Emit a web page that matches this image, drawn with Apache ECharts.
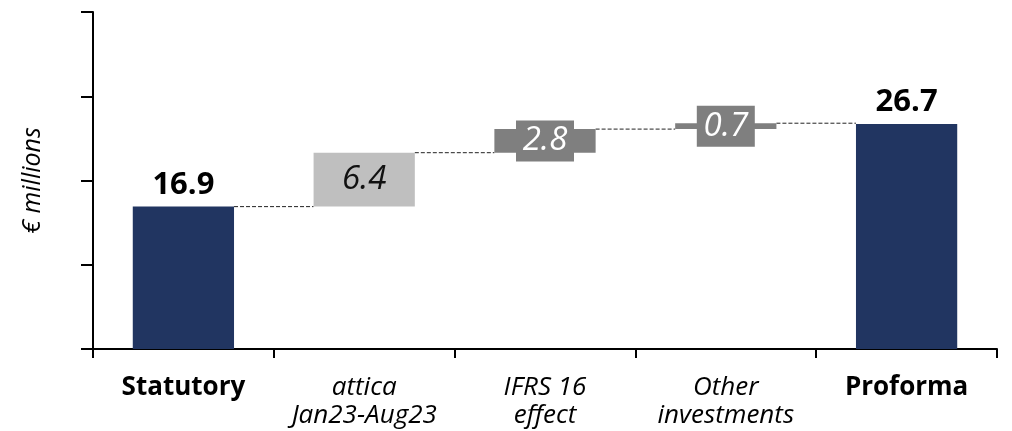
<!DOCTYPE html>
<html>
<head>
<meta charset="utf-8">
<style>
  html, body { margin: 0; padding: 0; background: #ffffff; }
  #chart { width: 1012px; height: 431px; }
</style>
<script src="https://cdn.jsdelivr.net/npm/echarts@6/dist/echarts.min.js"></script>
</head>
<body>
<div id="chart"></div>
<script>
// Bridge from statutory to proforma figure (€ millions)
const categories = ['Statutory', 'attica\nJan23-Aug23', 'IFRS 16\neffect', 'Other\ninvestments', 'Proforma'];
const values = [16.9, 6.4, 2.8, 0.7, 26.7];
const kinds = ['total', 'step', 'step', 'step', 'total'];
const yTicks = { min: 0, max: 40, interval: 10 };

const NAVY = '#213561';
const LIGHT = '#bfbfbf';
const DARK = '#7f7f7f';
const FONT = 'Open Sans';

// floating base for each bar: totals start at zero, steps start at the running total
const bases = [];
const tops = [];
let running = 0;
values.forEach((v, i) => {
  if (kinds[i] === 'total') {
    bases.push(0);
    running = v;
  } else {
    bases.push(running);
    running += v;
  }
  tops.push(bases[i] + v);
});

const BAR_RATIO = 0.56;

function itemFor(v, i) {
  if (kinds[i] === 'total') {
    return {
      value: v,
      itemStyle: { color: NAVY },
      label: {
        show: true, position: 'top', distance: 6,
        fontFamily: FONT, fontWeight: 'bold', fontSize: 31, color: '#000'
      }
    };
  }
  if (i === 1) {
    return {
      value: v,
      itemStyle: { color: LIGHT },
      label: {
        show: true, position: 'inside',
        fontFamily: FONT, fontStyle: 'italic', fontSize: 33, color: '#111'
      }
    };
  }
  return {
    value: v,
    itemStyle: { color: DARK },
    label: {
      show: true, position: 'inside',
      fontFamily: FONT, fontStyle: 'italic', fontSize: 33, color: '#fff',
      backgroundColor: DARK, width: 58, height: 41, lineHeight: 41, align: 'center'
    }
  };
}

// dashed connectors from each bar's top to the next bar
const connectors = [];
for (let i = 0; i < values.length - 1; i++) {
  connectors.push([i, tops[i]]);
}

const chart = echarts.init(document.getElementById('chart'), null, { renderer: 'canvas' });
chart.setOption({
  animation: false,
  backgroundColor: '#ffffff',
  grid: { left: 93, right: 15, top: 12, bottom: 82, containLabel: false },
  xAxis: {
    type: 'category',
    data: categories,
    boundaryGap: true,
    axisLine: { show: true, lineStyle: { color: '#000', width: 2 } },
    axisTick: { show: true, length: 9, lineStyle: { color: '#000', width: 2 } },
    axisLabel: {
      interval: 0,
      margin: 25,
      fontFamily: FONT,
      lineHeight: 28,
      formatter: function (v, i) {
        if (kinds[i] === 'total') return '{b|' + v + '}';
        return v.split('\n').map(s => '{i|' + s + '}').join('\n');
      },
      rich: {
        b: { fontFamily: FONT, fontWeight: 'bold', fontSize: 26, color: '#000', lineHeight: 28 },
        i: { fontFamily: FONT, fontStyle: 'italic', fontSize: 26, color: '#000', lineHeight: 28 }
      }
    }
  },
  yAxis: {
    type: 'value',
    min: yTicks.min, max: yTicks.max, interval: yTicks.interval,
    name: '€ millions',
    nameLocation: 'middle',
    nameRotate: 90,
    nameGap: 48,
    nameTextStyle: { fontFamily: FONT, fontStyle: 'italic', fontSize: 25, color: '#000' },
    axisLine: { show: true, lineStyle: { color: '#000', width: 2 } },
    axisTick: { show: true, inside: false, length: 12, lineStyle: { color: '#000', width: 2 } },
    axisLabel: { show: false },
    splitLine: { show: false }
  },
  series: [
    {
      name: 'base',
      type: 'bar',
      stack: 'bridge',
      barWidth: (BAR_RATIO * 100) + '%',
      itemStyle: { color: 'transparent' },
      emphasis: { disabled: true },
      data: bases
    },
    {
      name: 'value',
      type: 'bar',
      stack: 'bridge',
      barWidth: (BAR_RATIO * 100) + '%',
      data: values.map(itemFor)
    },
    {
      name: 'connector',
      type: 'custom',
      silent: true,
      z: 1,
      data: connectors,
      renderItem: function (params, api) {
        const i = api.value(0);
        const level = api.value(1);
        const band = api.size([1, 0])[0];
        const half = band * BAR_RATIO / 2;
        const p0 = api.coord([i, level]);
        const p1 = api.coord([i + 1, level]);
        return {
          type: 'line',
          shape: { x1: p0[0] + half, y1: p0[1], x2: p1[0] - half, y2: p1[1] },
          style: { stroke: '#222', lineWidth: 1, lineDash: [4, 2] }
        };
      }
    }
  ]
});
</script>
</body>
</html>
